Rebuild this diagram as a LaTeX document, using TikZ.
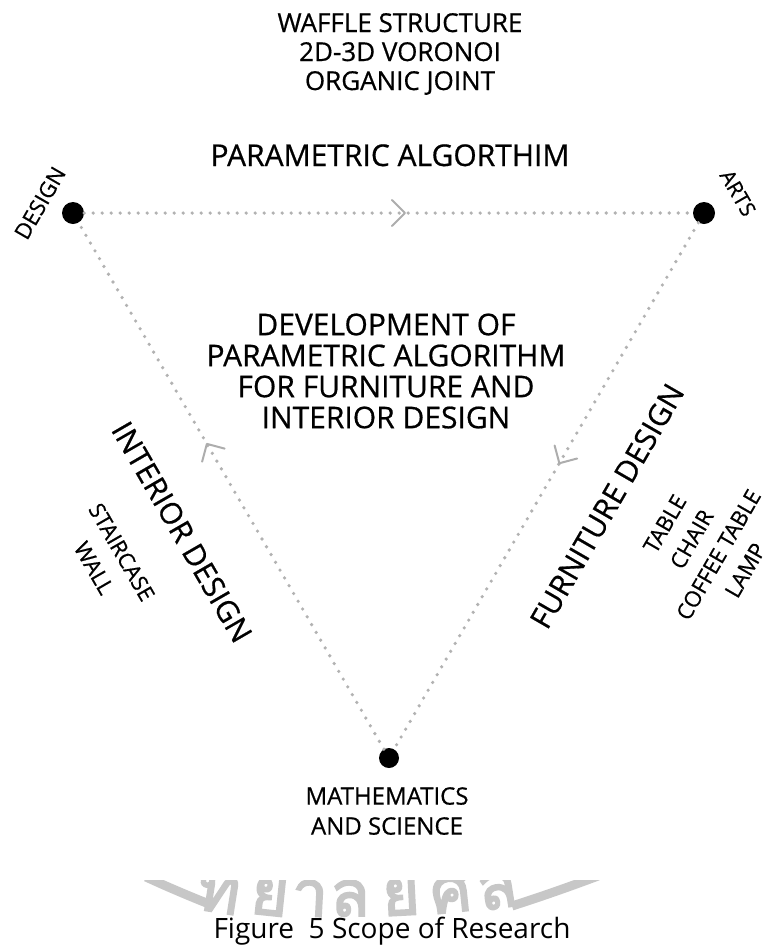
\documentclass[tikz,border=0pt]{standalone}
\usepackage{fontspec}
\setmainfont{Open Sans}[FakeBold=0.6]
\newfontfamily\capfont{Open Sans}
\newfontfamily\thaifont[Script=Thai,FakeBold=3]{Loma}
\usetikzlibrary{decorations.markings}
\begin{document}
\begin{tikzpicture}[x=1pt,y=-1pt,
  txt/.style={text=black, align=center, inner sep=0pt},
  fs/.style={font=\fontsize{#1}{#1}\selectfont},
  fsl/.style 2 args={font=\fontsize{#1}{#2}\selectfont},
  bigdot/.style={circle, fill=black, inner sep=0pt, minimum size=#1},
  dotline/.style={draw=black!30, line width=3.6pt, line cap=round, dash pattern=on 0pt off 9pt},
  chev/.style={draw=black!32, solid, line width=2pt, line cap=round, line join=round},
  chevat/.style={postaction={decorate}, decoration={markings, mark=at position #1 with {\draw[chev] (-13,13) -- (0,0) -- (-13,-13);}}},
  wm/.style={text=black!22, inner sep=0pt, font=\thaifont\fontsize{64}{64}\selectfont}
]
\useasboundingbox (0,0) rectangle (770,951);
\fill[white] (0,0) rectangle (770,951);

% watermark (partly visible seal)
\begin{scope}
  \clip (0,880) rectangle (770,951);
  \draw[black!22, line width=9pt] (146,877) .. controls (172,889) and (194,898) .. (214,906);
  \draw[black!22, line width=9pt] (512,906) .. controls (540,897) and (566,888) .. (598,876);
  \node[wm, rotate=-9, anchor=base] (w1) at (216,912) {ท};
  \node[wm, rotate=-6, anchor=base] (w2) at (268,915) {ย};
  \node[wm, rotate=-3, anchor=base] (w3) at (309,916) {า};
  \node[wm, rotate=0, anchor=base] (w4) at (350,916) {ลั};
  \node[wm, rotate=3, anchor=base] (w5) at (402,915) {ย};
  \node[wm, rotate=6, anchor=base] (w6) at (453,912) {ศิ};
  \node[wm, rotate=9, anchor=base] (w7) at (500,908) {ล};
\end{scope}

% corner dots
\node[bigdot=22pt] (design) at (73,213) {};
\node[bigdot=22pt] (arts) at (704,213) {};
\node[bigdot=20pt] (math) at (389,758) {};

% connectors
\draw[dotline, chevat=0.527] (design) -- (arts);
\draw[dotline, chevat=0.457] (arts) -- (math);
\draw[dotline, chevat=0.58] (math) -- (design);

% top list
\node[txt, fs=26, anchor=base] (t1) at (400,32) {WAFFLE STRUCTURE};
\node[txt, fs=26, anchor=base] (t2) at (400,61) {2D-3D VORONOI};
\node[txt, fs=26, anchor=base] (t3) at (400,90) {ORGANIC JOINT};

\node[txt, fs=30, anchor=base] (pa) at (390,166) {PARAMETRIC ALGORTHIM};

% corner labels
\node[txt, fs=22, rotate=60] (ldesign) at (40,203) {DESIGN};
\node[txt, fs=21, rotate=-60] (larts) at (738,193) {ARTS};
\node[txt, fsl={24}{30}] (lmath) at (387,811) {MATHEMATICS\\AND SCIENCE};

% centre title
\node[txt, fsl={30}{31}] (title) at (386,371) {DEVELOPMENT OF\\PARAMETRIC ALGORITHM\\FOR FURNITURE AND\\INTERIOR DESIGN};

% side labels
\node[txt, fs=30, rotate=-60] (interior) at (182,532) {INTERIOR DESIGN};
\node[txt, fsl={22}{32}, rotate=-60] (interiorlist) at (108,560) {STAIRCASE\\WALL};
\node[txt, fs=30, rotate=60] (furniture) at (607,506) {FURNITURE DESIGN};
\node[txt, fsl={22}{31}, rotate=60] (furnlist) at (705,547) {TABLE\\CHAIR\\COFFEE TABLE\\LAMP};

% caption
\node[txt, font=\capfont\fontsize{28}{28}\selectfont, anchor=base] (caption) at (392,938) {Figure\ \ 5 Scope of Research};
\end{tikzpicture}
\end{document}
